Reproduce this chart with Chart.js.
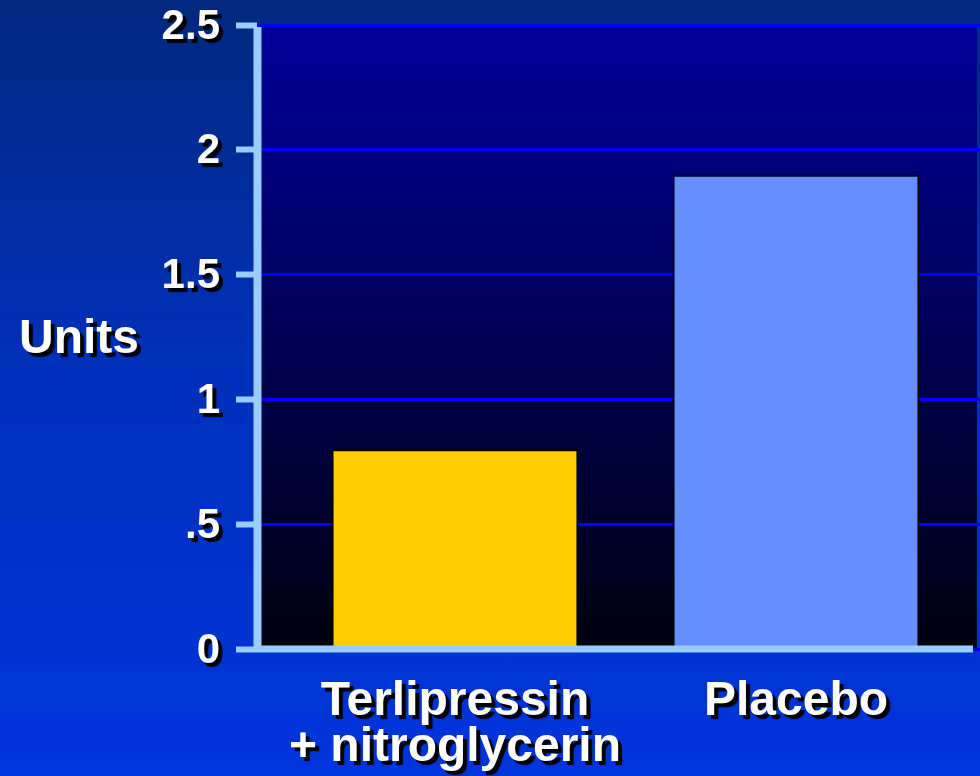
<!DOCTYPE html>
<html>
<head>
<meta charset="utf-8">
<script src="https://cdn.jsdelivr.net/npm/chart.js@4.4.1/dist/chart.umd.min.js"></script>
<style>
  html, body { margin: 0; padding: 0; }
  body {
    width: 980px; height: 776px; overflow: hidden;
    background: linear-gradient(to bottom, #00287e 0%, #0030b8 45%, #0034dd 100%);
  }
  #wrap { width: 980px; height: 776px; }
</style>
</head>
<body>
<div id="wrap"><canvas id="chart" width="980" height="776"></canvas></div>
<script>
// data
const categories = [['Terlipressin', '+ nitroglycerin'], 'Placebo'];
const values = [0.8, 1.9];
const barColors = ['#ffcc00', '#668eff'];
const yTickLabels = ['0', '.5', '1', '1.5', '2', '2.5'];
const yTitle = 'Units';

const axisBlue = '#99ccff';
const fontFam = '"Liberation Sans", Arial, Helvetica, sans-serif';

function setShadow(ctx) {
    ctx.shadowColor = '#000000';
    ctx.shadowOffsetX = 4;
    ctx.shadowOffsetY = 4;
    ctx.shadowBlur = 1;
}

const slidePlugin = {
    id: 'slide',
    beforeDraw(chart) {
        // plot background, blue to black
        const a = chart.chartArea;
        const ctx = chart.ctx;
        const g = ctx.createLinearGradient(0, a.top, 0, a.bottom);
        g.addColorStop(0, '#000099');
        g.addColorStop(1, '#000010');
        ctx.save();
        ctx.fillStyle = g;
        ctx.fillRect(a.left, a.top, a.right - 3 - a.left, a.bottom - a.top);
        ctx.restore();
    },
    afterDatasetsDraw(chart) {
        // axis lines sit on top of the bars
        const a = chart.chartArea;
        const ctx = chart.ctx;
        ctx.save();
        ctx.strokeStyle = axisBlue;
        ctx.lineWidth = 8;
        ctx.beginPath();
        ctx.moveTo(a.left + 0.5, a.top + 2);
        ctx.lineTo(a.left + 0.5, a.bottom + 3);
        ctx.stroke();
        ctx.lineWidth = 7;
        ctx.beginPath();
        ctx.moveTo(a.left, a.bottom);
        ctx.lineTo(a.right - 7, a.bottom);
        ctx.stroke();
        ctx.restore();
        // tick labels get drawn next, with a drop shadow
        ctx.save();
        setShadow(ctx);
    },
    afterDraw(chart) {
        const ctx = chart.ctx;
        ctx.restore();
        ctx.save();
        setShadow(ctx);
        ctx.fillStyle = '#ffffff';
        ctx.font = 'bold 48px ' + fontFam;
        ctx.textAlign = 'center';
        ctx.textBaseline = 'middle';
        ctx.fillText(yTitle, 79, 340);
        ctx.restore();
    }
};

const ctx = document.getElementById('chart').getContext('2d');
const chart = new Chart(ctx, {
    type: 'bar',
    data: {
        datasets: [{
            data: values.map((v, i) => ({ x: i, y: v })),
            backgroundColor: barColors,
            borderColor: '#000000',
            borderWidth: 2,
            borderSkipped: 'bottom',
            barPercentage: 0.724,
            categoryPercentage: 1
        }]
    },
    options: {
        responsive: false,
        animation: false,
        events: [],
        layout: {
            padding: { top: 25, right: 0, bottom: 0, left: 0 }
        },
        plugins: {
            legend: { display: false },
            tooltip: { enabled: false }
        },
        scales: {
            x: {
                type: 'linear',
                offset: false,
                min: -0.5806,
                max: 1.5396,
                grid: { display: false, drawTicks: false },
                border: { display: false },
                afterBuildTicks: (scale) => {
                    scale.ticks = categories.map((c, i) => ({ value: i }));
                },
                afterFit: (scale) => {
                    scale.height = 127;
                    scale.paddingLeft = 0;
                    scale.paddingRight = 0;
                },
                ticks: {
                    z: 1,
                    autoSkip: false,
                    maxRotation: 0,
                    padding: 30,
                    color: '#ffffff',
                    font: { family: fontFam, size: 48, weight: 'bold', lineHeight: 0.96 },
                    callback: (v) => categories[v]
                }
            },
            y: {
                min: 0,
                max: 2.5,
                afterFit: (scale) => {
                    scale.width = 257;
                    scale.paddingTop = 0;
                    scale.paddingBottom = 0;
                },
                grid: {
                    color: '#0000ff',
                    lineWidth: 3,
                    drawTicks: true,
                    tickLength: 21,
                    tickColor: axisBlue,
                    tickWidth: 6
                },
                border: { display: false },
                ticks: {
                    z: 1,
                    stepSize: 0.5,
                    padding: 16,
                    labelOffset: 2,
                    color: '#ffffff',
                    font: { family: fontFam, size: 42, weight: 'bold' },
                    callback: (v, i) => yTickLabels[i]
                }
            }
        }
    },
    plugins: [slidePlugin]
});
</script>
</body>
</html>
